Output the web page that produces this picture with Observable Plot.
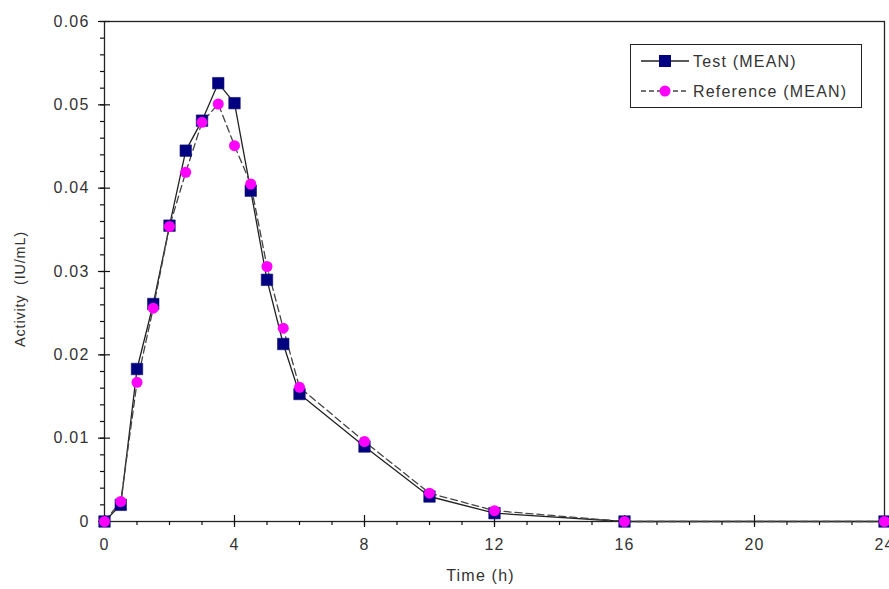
<!DOCTYPE html>
<html>
<head>
<meta charset="utf-8">
<script src="https://cdn.jsdelivr.net/npm/d3@7"></script>
<script src="https://cdn.jsdelivr.net/npm/@observablehq/plot@0.6"></script>
<style>
  html, body { margin: 0; padding: 0; background: #fff; }
  #wrap { position: relative; width: 889px; height: 589px; font-family: "Liberation Sans", Arial, sans-serif; overflow: hidden; }
  #legend { position: absolute; left: 630px; top: 44px; width: 232px; height: 64px; border: 1px solid #222; background: #fff; box-sizing: border-box; }
  #ylabel { position: absolute; left: 20px; top: 289px; transform: translate(-50%, -50%) rotate(-90deg); white-space: pre; font-size: 14.5px; letter-spacing: 0.8px; color: #333; }
</style>
</head>
<body>
<div id="wrap"><div id="chart"></div><div id="legend"></div><div id="ylabel"></div></div>
<script>
const times = [0, 0.5, 1, 1.5, 2, 2.5, 3, 3.5, 4, 4.5, 5, 5.5, 6, 8, 10, 12, 16, 24];
const testMean = [0, 0.0020, 0.0183, 0.0261, 0.0355, 0.0445, 0.0481, 0.0526, 0.0502, 0.0397, 0.0290, 0.0213, 0.0153, 0.0090, 0.0030, 0.0010, 0, 0];
const refMean  = [0, 0.0024, 0.0167, 0.0256, 0.0354, 0.0419, 0.0479, 0.0501, 0.0451, 0.0405, 0.0306, 0.0232, 0.0161, 0.0096, 0.0034, 0.0013, 0, 0];
const seriesNames = ["Test (MEAN)", "Reference (MEAN)"];
const xTicks = [0, 4, 8, 12, 16, 20, 24];
const yTicks = [0, 0.01, 0.02, 0.03, 0.04, 0.05, 0.06];
const xMinor = d3.range(0, 25, 1);
const yMinor = d3.range(0, 0.0601, 0.002);
const xLabel = "Time (h)";
const yLabel = "Activity  (IU/mL)";

const test = times.map((t, i) => ({t, v: testMean[i]}));
const ref = times.map((t, i) => ({t, v: refMean[i]}));

const fmtY = d => d === 0 ? "0" : d.toFixed(2);
const textColor = "#333";
const tickStyle = {stroke: "#111", strokeWidth: 1.2};
const base = () => 0; // the axis baseline (domain minimum)

const chart = Plot.plot({
  width: 889,
  height: 589,
  marginLeft: 104,
  marginRight: 5,
  marginTop: 21,
  marginBottom: 68,
  style: {fontFamily: "Liberation Sans, Arial, sans-serif", fontSize: "16px", letterSpacing: "1.2px", color: textColor, background: "#fff", overflow: "visible"},
  x: {domain: [0, 24]},
  y: {domain: [0, 0.06]},
  marks: [
    Plot.frame({stroke: "#222", strokeWidth: 1.3}),
    // minor ticks (outward)
    Plot.ruleX(xMinor, {x: d => d, y1: base, y2: base, insetTop: 0, insetBottom: -4, ...tickStyle}),
    Plot.ruleY(yMinor, {y: d => d, x1: base, x2: base, insetLeft: -4, insetRight: 0, ...tickStyle}),
    // major ticks crossing the axis
    Plot.ruleX(xTicks, {x: d => d, y1: base, y2: base, insetTop: -6, insetBottom: -6, ...tickStyle}),
    Plot.ruleY(yTicks, {y: d => d, x1: base, x2: base, insetLeft: -6, insetRight: -6, ...tickStyle}),
    // tick labels
    Plot.axisX({ticks: xTicks, tickSize: 0, tickPadding: 17, tickFormat: d => String(d), label: null, fill: textColor, fontSize: 16}),
    Plot.axisY({ticks: yTicks, tickSize: 0, tickPadding: 15, tickFormat: fmtY, label: null, fill: textColor, fontSize: 16}),
    Plot.text([xLabel], {frameAnchor: "bottom", dx: -14, dy: 59, text: d => d, fill: textColor, fontSize: 16}),
    // series
    Plot.line(test, {x: "t", y: "v", stroke: "#222", strokeWidth: 1.3}),
    Plot.line(ref, {x: "t", y: "v", stroke: "#444", strokeWidth: 1.3, strokeDasharray: "7,4"}),
    Plot.dot(test, {x: "t", y: "v", symbol: "square", r: 6.5, fill: "#000080", stroke: "#1a1a6e", strokeWidth: 0.6}),
    Plot.dot(ref, {x: "t", y: "v", symbol: "circle", r: 5.5, fill: "#ff00ff", stroke: "none"})
  ]
});
document.getElementById("chart").appendChild(chart);
document.getElementById("ylabel").textContent = yLabel;

// legend
const lg = d3.select("#legend").append("svg").attr("width", 230).attr("height", 62)
  .style("font-family", "Liberation Sans, Arial, sans-serif").style("font-size", "16px").style("letter-spacing", "1.2px");
const items = [
  {name: seriesNames[0], dash: null, stroke: "#222", shape: "square", color: "#000080"},
  {name: seriesNames[1], dash: "5,3", stroke: "#444", shape: "circle", color: "#ff00ff"}
];
items.forEach((it, i) => {
  const cy = 16 + i * 30;
  lg.append("line").attr("x1", 10).attr("x2", 58).attr("y1", cy).attr("y2", cy)
    .attr("stroke", it.stroke).attr("stroke-width", 1.3).attr("stroke-dasharray", it.dash);
  if (it.shape === "square") lg.append("rect").attr("x", 28).attr("y", cy - 6).attr("width", 12).attr("height", 12).attr("fill", it.color);
  else lg.append("circle").attr("cx", 34).attr("cy", cy).attr("r", 5.5).attr("fill", it.color);
  lg.append("text").attr("x", 62).attr("y", cy).attr("dy", "0.35em").attr("fill", "#333").text(it.name);
});
</script>
</body>
</html>
